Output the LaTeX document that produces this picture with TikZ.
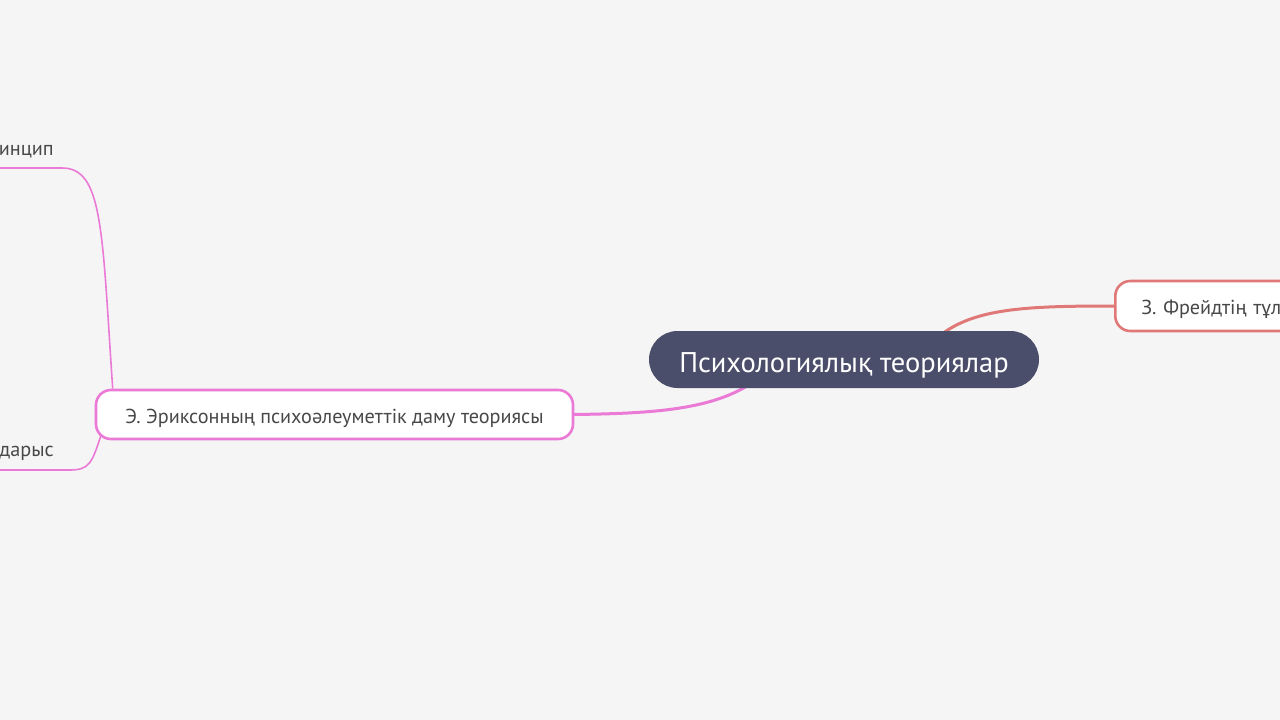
\documentclass[tikz,border=0pt]{standalone}
\usepackage{fontspec}
\setmainfont{PT Sans}
\usetikzlibrary{backgrounds}
\definecolor{bgc}{HTML}{F5F5F5}
\definecolor{rootc}{RGB}{74,78,106}
\definecolor{pinkc}{RGB}{234,122,214}
\definecolor{redc}{RGB}{224,120,120}
\definecolor{txtc}{HTML}{484848}
\tikzset{
  rootbox/.style={fill=rootc, rounded corners=28.5pt, minimum width=390pt, minimum height=57pt, inner sep=0pt, text=white, font=\fontsize{28.5}{32}\selectfont, text height=25pt, text depth=0pt},
  subbox/.style={fill=white, line width=2.6pt, rounded corners=15pt, minimum height=49pt, inner sep=0pt, text=txtc, font=\fontsize{20.2}{24}\selectfont, text height=17.5pt, text depth=0pt},
  leaftext/.style={text=txtc, font=\fontsize{20.2}{24}\selectfont, inner sep=0pt},
  mainlink/.style={line width=3pt, line cap=round},
  leaflink/.style={line width=1.6pt, pinkc}
}
\begin{document}
\begin{tikzpicture}[x=1pt,y=-1pt]
\useasboundingbox (0,0) rectangle (1280,720);
\clip (0,0) rectangle (1280,720);
% nodes
\node[rootbox] (root) at (844,359.5) {Психологиялық теориялар};
\node[subbox, draw=pinkc, minimum width=477pt] (erik) at (334.5,414.5) {Э. Эриксонның психоәлеуметтік даму теориясы};
\node[subbox, draw=redc, minimum height=50pt, anchor=west, inner xsep=26pt, minimum width=300pt, text width=250pt, align=left] (freud) at (1114,306) {З. Фрейдтің тұл};
\coordinate (up) at (-10,168);
\coordinate (down) at (-10,470);
\node[leaftext, anchor=base east] (princ) at (54,155) {инцип};
\node[leaftext, anchor=base east] (crisis) at (54,456) {дарыс};
% connectors
\begin{pgfonlayer}{background}
\fill[bgc] (0,0) rectangle (1280,720);
\draw[mainlink, pinkc] (root.south) ++(-99,-1) coordinate (rs) (rs) .. controls (705,410) and (650,413.5) .. (erik.east);
\draw[mainlink, redc] (root.north) ++(101,1) coordinate (rn) (rn) .. controls (980,308) and (1030,306) .. (freud.west);
\draw[leaflink] (erik.north west) ++(18,0) coordinate (eu) (eu) .. controls (102,230) and (103,168) .. (62,168) -- (up);
\draw[leaflink] (erik.south west) ++(6,-4) coordinate (ed) (ed) .. controls (92,462) and (90,470) .. (70,470) -- (down);
\end{pgfonlayer}
\end{tikzpicture}
\end{document}
